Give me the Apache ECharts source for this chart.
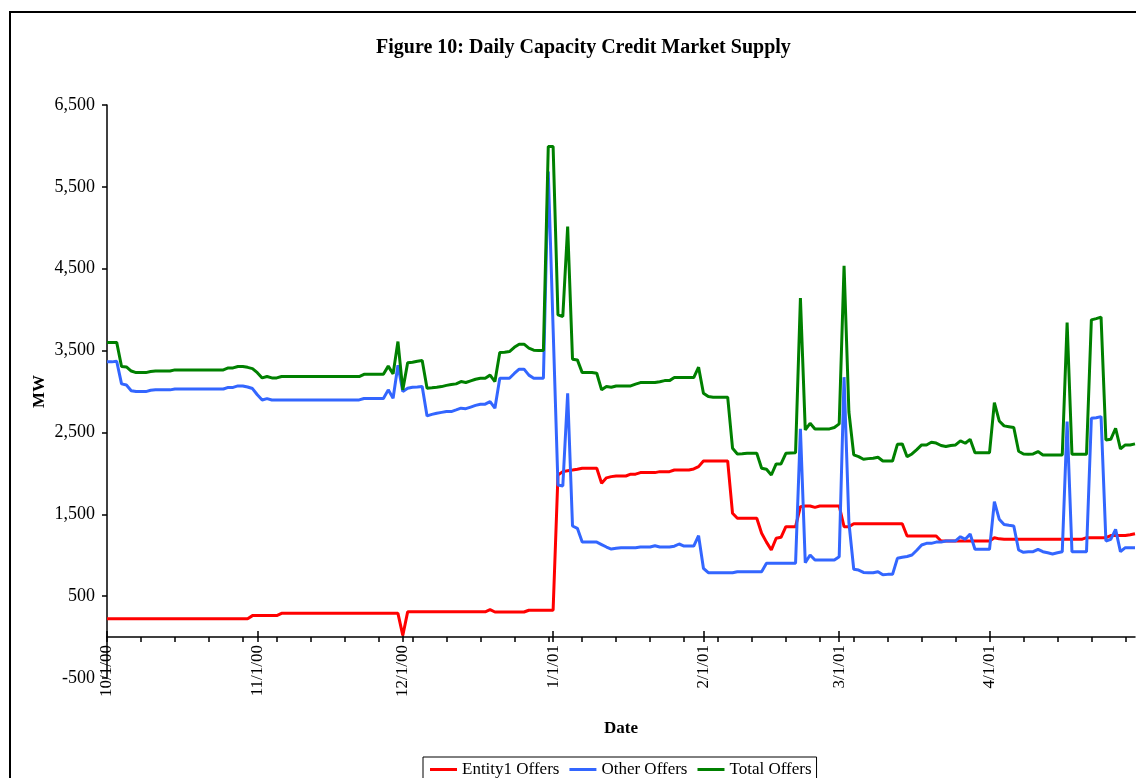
<!DOCTYPE html>
<html>
<head>
<meta charset="utf-8">
<script src="https://cdn.jsdelivr.net/npm/echarts@6/dist/echarts.min.js"></script>
<style>
html,body{margin:0;padding:0;background:#fff;}
#chart{width:1136px;height:778px;}
</style>
</head>
<body>
<div id="chart"></div>
<script>
// Months covered: [month, year suffix, number of days shown]
const monthSpans = [['10','00',31],['11','00',30],['12','00',31],['1','01',31],['2','01',28],['3','01',31],['4','01',30],['5','01',1]];

// Entity1 Offers (MW), one value per day as plotted from 10/1/00
const entity1Offers = [
  // Oct
  225,225,225,225,225,225,225,225,225,225, 225,225,225,225,225,225,225,225,225,225, 225,225,225,225,225,225,225,225,225,225, 262,
  // Nov
  262,262,262,262,262,290,290,290,290,290, 290,290,290,290,290,290,290,290,290,290, 290,290,290,290,290,290,290,290,290,290,
  // Dec
  20,308,308,308,308,308,308,308,308,308, 308,308,308,308,308,308,308,308,335,306, 306,306,306,306,306,306,328,328,328,328, 328,
  // Jan
  328,1980,2021,2033,2040,2050,2062,2062,2062,2062, 1880,1945,1960,1968,1968,1968,1990,1990,2009,2009, 2009,2009,2021,2021,2021,2041,2041,2041,2041,2054, 2082,
  // Feb
  2151,2151,2151,2151,2151,2151,1512,1451,1451,1451, 1451,1451,1268,1160,1064,1207,1219,1349,1349,1349, 1593,1601,1601,1585,1601,1601,1601,1601,
  // Mar
  1601,1349,1349,1385,1385,1385,1385,1385,1385,1385, 1385,1385,1385,1385,1235,1235,1235,1235,1235,1235, 1235,1174,1174,1174,1174,1174,1174,1174,1174,1174,
  1174,
  // Apr + 5/1
  1174,1214,1200,1194,1194,1194,1194,1194,1194,1194, 1194,1194,1194,1194,1194,1194,1194,1194,1194,1194, 1214,1214,1214,1214,1214,1240,1240,1240,1240,1250,
  1262
];

// Other Offers (MW)
const otherOffers = [
  // Oct
  3362,3362,3370,3093,3080,3010,2999,2999,2999,3015, 3020,3020,3020,3020,3030,3030,3030,3030,3030,3030, 3030,3030,3030,3030,3030,3050,3050,3068,3068,3055, 3036,
  // Nov
  2960,2897,2913,2897,2897,2897,2897,2897,2897,2897, 2897,2897,2897,2897,2897,2897,2897,2897,2897,2897, 2897,2897,2915,2915,2915,2915,2915,3020,2918,3320,
  // Dec
  2999,3040,3052,3055,3060,2702,2720,2735,2745,2755, 2755,2775,2796,2790,2810,2830,2845,2845,2877,2796, 3162,3162,3162,3220,3273,3273,3200,3162,3162,3162, 5688,
  // Jan
  3770,1858,1846,2979,1357,1329,1160,1160,1160,1160, 1130,1100,1075,1084,1092,1092,1092,1092,1100,1100, 1100,1116,1100,1100,1100,1110,1137,1112,1112,1112, 1238,
  // Feb
  840,786,786,786,786,786,786,799,799,799, 799,799,799,901,901,901,901,901,901,901, 2543,908,1002,941,941,941,941,941,
  // Mar
  982,3175,1400,828,819,790,786,786,799,760, 766,766,962,974,985,1002,1060,1125,1145,1145, 1160,1160,1174,1174,1174,1226,1194,1259,1072,1072,
  1072,
  // Apr + 5/1
  1072,1654,1440,1375,1365,1357,1064,1035,1043,1043, 1072,1043,1030,1015,1030,1043,2632,1043,1043,1043, 1043,2673,2680,2693,1174,1194,1316,1043,1092,1092,
  1092
];

// Total Offers (MW)
const totalOffers = [
  // Oct
  3600,3600,3600,3305,3300,3250,3231,3231,3231,3245, 3250,3250,3250,3250,3264,3264,3264,3264,3264,3264, 3264,3264,3264,3264,3264,3288,3288,3305,3305,3295, 3280,
  // Nov
  3230,3166,3183,3166,3166,3183,3183,3183,3183,3183, 3183,3183,3183,3183,3183,3183,3183,3183,3183,3183, 3183,3183,3210,3210,3210,3210,3210,3310,3215,3610,
  // Dec
  3020,3350,3358,3370,3378,3040,3045,3052,3060,3075, 3085,3093,3121,3110,3130,3150,3162,3162,3200,3121, 3476,3480,3488,3540,3578,3578,3530,3505,3500,3500, 5994,
  // Jan
  5994,3936,3916,5016,3395,3386,3231,3231,3231,3223, 3020,3060,3052,3068,3068,3068,3068,3090,3109,3109, 3109,3109,3120,3133,3133,3170,3170,3170,3170,3170, 3297,
  // Feb
  2979,2938,2930,2930,2930,2930,2307,2237,2240,2245, 2245,2245,2062,2050,1980,2115,2115,2245,2250,2253, 4141,2531,2612,2543,2543,2543,2543,2560,
  // Mar
  2604,4535,2750,2225,2204,2172,2180,2184,2197,2151, 2151,2151,2355,2360,2204,2237,2290,2347,2347,2380, 2370,2340,2327,2340,2347,2396,2368,2416,2253,2253,
  2253,
  // Apr + 5/1
  2253,2864,2640,2580,2570,2560,2270,2237,2233,2237, 2266,2225,2225,2225,2225,2225,3842,2233,2233,2233, 2233,3875,3890,3908,2408,2416,2551,2298,2347,2347,
  2360
];

const seriesNames = ['Entity1 Offers', 'Other Offers', 'Total Offers'];
const yTickValues = [-500, 500, 1500, 2500, 3500, 4500, 5500, 6500];
const titleText = 'Figure 10: Daily Capacity Credit Market Supply';

// Build category labels m/d/yy
const categories = [];
monthSpans.forEach(function (m) {
  for (let d = 1; d <= m[2]; d++) categories.push(m[0] + '/' + d + '/' + m[1]);
});
function isMonthStart(v) { return v.split('/')[1] === '1'; }
const lastIdx = categories.length - 1;

const serif = '"Liberation Serif", "Times New Roman", serif';
const chart = echarts.init(document.getElementById('chart'), null, { renderer: 'canvas' });

chart.setOption({
  animation: false,
  backgroundColor: '#ffffff',
  textStyle: { fontFamily: serif, color: '#000' },
  title: {
    text: titleText,
    left: 371, top: 33,
    textStyle: { fontFamily: serif, fontWeight: 'bold', fontSize: 20, color: '#000' }
  },
  graphic: [{
    type: 'rect', silent: true, z: -1,
    shape: { x: 10, y: 12, width: 1300, height: 900 },
    style: { fill: null, stroke: '#000', lineWidth: 2 }
  }],
  legend: {
    data: seriesNames,
    left: 423, top: 757,
    orient: 'horizontal',
    icon: 'rect',
    itemWidth: 27, itemHeight: 3, itemGap: 10,
    padding: [4, 5, 20, 7],
    borderColor: '#000', borderWidth: 1,
    textStyle: { fontFamily: serif, fontSize: 17, color: '#000' }
  },
  grid: { left: 107, right: 1, top: 105, bottom: 100, containLabel: false },
  xAxis: [{
    // axis line at zero with weekly ticks (outside)
    type: 'category',
    data: categories,
    boundaryGap: false,
    position: 'bottom',
    axisLine: { onZero: true, onZeroAxisIndex: 0, lineStyle: { color: '#000', width: 1.5 } },
    axisTick: {
      show: true, inside: false, length: 5,
      interval: function (i, v) { return i % 7 === 0 || (isMonthStart(v) && i < lastIdx); },
      lineStyle: { color: '#000', width: 1.5 }
    },
    axisLabel: { show: false },
    splitLine: { show: false }
  }, {
    // month ticks crossing the zero line (inside part)
    type: 'category',
    data: categories,
    boundaryGap: false,
    position: 'bottom',
    axisLine: { show: true, onZero: true, onZeroAxisIndex: 0, lineStyle: { color: '#000', width: 1.5, opacity: 0 } },
    axisTick: {
      show: true, inside: true, length: 6,
      interval: function (i, v) { return isMonthStart(v) && i < lastIdx; },
      lineStyle: { color: '#000', width: 1.5 }
    },
    axisLabel: { show: false },
    splitLine: { show: false }
  }, {
    // date labels and axis name
    type: 'category',
    data: categories,
    boundaryGap: false,
    position: 'bottom',
    name: 'Date',
    nameLocation: 'middle',
    nameGap: 42,
    nameMoveOverlap: false,
    nameTextStyle: { fontFamily: serif, fontWeight: 'bold', fontSize: 17, color: '#000' },
    axisLine: { show: false, onZero: false },
    axisTick: { show: false },
    axisLabel: {
      rotate: 90, margin: -33,
      interval: function (i, v) { return isMonthStart(v) && i < lastIdx; },
      fontFamily: serif, fontSize: 17, color: '#000'
    },
    splitLine: { show: false }
  }],
  yAxis: {
    type: 'value',
    min: -500, max: 6500,
    name: 'MW',
    nameLocation: 'middle',
    nameRotate: 90,
    nameGap: 59,
    nameMoveOverlap: false,
    nameTextStyle: { fontFamily: serif, fontWeight: 'bold', fontSize: 17, color: '#000' },
    axisLine: { show: true, lineStyle: { color: '#000', width: 1.5 } },
    axisTick: { show: true, length: 5, customValues: yTickValues, lineStyle: { color: '#000', width: 1.5 } },
    axisLabel: {
      customValues: yTickValues,
      margin: 12,
      fontFamily: serif, fontSize: 18, color: '#000',
      formatter: function (v) { return echarts.format.addCommas(v); }
    },
    splitLine: { show: false }
  },
  series: [
    { name: seriesNames[0], type: 'line', data: entity1Offers, xAxisIndex: 0, showSymbol: false, symbol: 'none',
      color: '#ff0000', lineStyle: { color: '#ff0000', width: 3 } },
    { name: seriesNames[1], type: 'line', data: otherOffers, xAxisIndex: 0, showSymbol: false, symbol: 'none',
      color: '#3366ff', lineStyle: { color: '#3366ff', width: 3 } },
    { name: seriesNames[2], type: 'line', data: totalOffers, xAxisIndex: 0, showSymbol: false, symbol: 'none',
      color: '#008000', lineStyle: { color: '#008000', width: 3 } }
  ]
});
</script>
</body>
</html>
